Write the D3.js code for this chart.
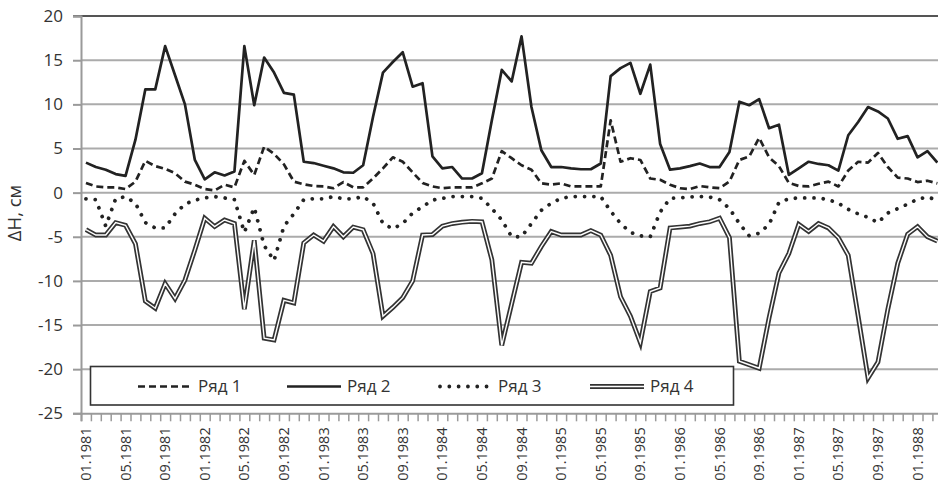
<!DOCTYPE html>
<html><head><meta charset="utf-8">
<script src="https://cdn.jsdelivr.net/npm/d3@7"></script>
<style>
html,body{margin:0;padding:0;background:#fff;}
svg{display:block;}
text{font-family:"Open Sans","DejaVu Sans",sans-serif;fill:#333;}
</style></head>
<body><svg id="chart" width="938" height="490"></svg>
<script>
// ---- data ----
const startYear = 1981;
const categories = d3.range(87).map(i => {
  const m = (i % 12) + 1, yr = startYear + Math.floor(i / 12);
  return (m < 10 ? "0" + m : "" + m) + "." + yr;
});
const tickLabels = ["01.1981","05.1981","09.1981","01.1982","05.1982","09.1982","01.1983","05.1983","09.1983","01.1984","05.1984","09.1984","01.1985","05.1985","09.1985","01.1986","05.1986","09.1986","01.1987","05.1987","09.1987","01.1988"];
const yTicks = [-25,-20,-15,-10,-5,0,5,10,15,20];
const seriesNames = ["Ряд 1","Ряд 2","Ряд 3","Ряд 4"];

const series1 = [1.1,0.7,0.6,0.6,0.4,1.25,3.6,3.0,2.7,2.2,1.25,0.9,0.4,0.25,0.9,0.6,3.6,2.0,5.2,4.4,3.2,1.25,0.95,0.75,0.7,0.5,1.2,0.6,0.6,1.6,2.75,4.0,3.5,2.3,1.1,0.7,0.5,0.6,0.6,0.6,1.05,1.6,4.7,3.9,3.1,2.6,1.05,0.9,1.05,0.7,0.7,0.7,0.7,8.2,3.5,3.9,3.7,1.6,1.45,0.9,0.5,0.4,0.75,0.6,0.5,1.25,3.7,4.1,6.2,4.0,3.0,1.1,0.75,0.7,1.0,1.25,0.7,2.5,3.5,3.4,4.5,2.9,1.7,1.6,1.2,1.35,1.05];
const series2 = [3.4,2.9,2.6,2.1,1.9,6.0,11.7,11.7,16.6,13.3,10.0,3.7,1.5,2.3,1.95,2.4,16.6,9.9,15.3,13.6,11.3,11.1,3.5,3.35,3.05,2.75,2.3,2.25,3.1,8.6,13.6,14.8,15.9,12.0,12.4,4.1,2.75,2.9,1.6,1.6,2.2,8.2,13.9,12.6,17.7,9.7,4.8,2.9,2.9,2.75,2.65,2.65,3.3,13.2,14.1,14.7,11.2,14.5,5.5,2.6,2.75,3.0,3.3,2.9,2.9,4.6,10.3,9.9,10.6,7.3,7.7,2.0,2.75,3.5,3.25,3.1,2.5,6.5,8.0,9.7,9.2,8.4,6.1,6.4,4.0,4.7,3.4];
const series3 = [-0.7,-0.8,-3.8,-0.7,-0.45,-1.2,-3.4,-4.0,-4.0,-2.4,-1.3,-0.85,-0.6,-0.45,-0.6,-0.8,-4.5,-1.7,-6.0,-7.7,-3.8,-2.4,-0.8,-0.7,-0.7,-0.45,-0.7,-0.7,-0.45,-1.2,-3.5,-4.1,-3.5,-2.3,-1.6,-0.85,-0.65,-0.45,-0.45,-0.45,-0.65,-1.8,-3.1,-5.0,-5.0,-3.5,-2.0,-1.2,-0.65,-0.45,-0.45,-0.45,-0.45,-2.1,-3.5,-4.5,-4.9,-5.0,-2.2,-0.65,-0.6,-0.5,-0.45,-0.5,-0.8,-1.8,-3.5,-4.9,-4.6,-3.6,-1.1,-0.7,-0.6,-0.6,-0.6,-0.8,-1.2,-1.9,-2.4,-2.8,-3.4,-2.3,-1.8,-1.3,-0.75,-0.5,-0.85];
const series4 = [-4.2,-4.8,-4.8,-3.4,-3.7,-5.8,-12.3,-13.1,-10.3,-12.0,-9.9,-6.5,-2.9,-3.85,-3.1,-3.5,-13.2,-5.4,-16.5,-16.7,-12.2,-12.5,-5.7,-4.8,-5.5,-3.85,-5.0,-3.9,-4.2,-6.9,-14.0,-13.0,-11.9,-10.0,-4.8,-4.75,-3.8,-3.5,-3.35,-3.25,-3.3,-7.6,-17.3,-12.6,-7.9,-8.0,-6.1,-4.4,-4.8,-4.8,-4.8,-4.3,-4.8,-7.1,-11.8,-14.0,-17.0,-11.2,-10.8,-4.0,-3.9,-3.8,-3.5,-3.3,-2.9,-5.1,-19.1,-19.5,-19.9,-14.2,-9.1,-6.9,-3.6,-4.4,-3.5,-4.0,-5.1,-7.1,-14.0,-21.0,-19.2,-13.2,-8.0,-4.7,-3.85,-5.0,-5.5];

// ---- layout ----
const plotLeft = 81, stepW = 9.9, plotTop = 16.1, plotBottom = 413.3;
const plotRight = plotLeft + categories.length * stepW;
const svg = d3.select("#chart");
svg.append("rect").attr("width",938).attr("height",490).attr("fill","#fff");

const x = d3.scaleBand().domain(categories).range([plotLeft, plotRight]).padding(0);
const xc = c => x(c) + x.bandwidth() / 2;
const xb = d3.scaleLinear().domain([0, categories.length]).range([plotLeft, plotRight]);
const y = d3.scaleLinear().domain([-25, 20]).range([plotBottom, plotTop]);

// gridlines
svg.append("g").selectAll("line").data(yTicks.filter(v => v > -25 && v < 20)).join("line")
  .attr("x1", plotLeft).attr("x2", 938).attr("y1", d => y(d)).attr("y2", d => y(d))
  .attr("stroke", "#ababab").attr("stroke-width", 2);
// top border
svg.append("line").attr("x1", plotLeft - 8).attr("x2", 938).attr("y1", y(20)).attr("y2", y(20))
  .attr("stroke", "#555").attr("stroke-width", 2);

// y axis
const ya = svg.append("g").attr("transform", `translate(${plotLeft},0)`)
  .call(d3.axisLeft(y).tickValues(yTicks).tickSize(8).tickPadding(10).tickFormat(d => String(d)));
ya.select(".domain").attr("stroke", "#9a9a9a").attr("stroke-width", 2);
ya.selectAll(".tick line").attr("stroke", "#9a9a9a").attr("stroke-width", 2);
ya.selectAll(".tick text").attr("font-size", 17).attr("fill", "#333")
  .attr("font-family", '"Open Sans", sans-serif');

// x axis ticks (category boundaries)
const xa = svg.append("g").attr("transform", `translate(0,${plotBottom})`)
  .call(d3.axisBottom(xb).tickValues(d3.range(0, categories.length + 1)).tickSize(8).tickFormat(""));
xa.select(".domain").attr("stroke", "#9a9a9a").attr("stroke-width", 2);
xa.selectAll(".tick line").attr("stroke", "#9a9a9a").attr("stroke-width", 1.5);
// x labels
const xl = svg.append("g").attr("transform", `translate(0,${plotBottom})`)
  .call(d3.axisBottom(x).tickValues(tickLabels).tickSize(0).tickPadding(0));
xl.select(".domain").remove();
xl.selectAll(".tick text")
  .attr("font-size", 14.5).attr("fill", "#333").attr("font-family", '"Open Sans", sans-serif')
  .attr("text-anchor", "end").attr("transform", "rotate(-90)")
  .attr("x", -14).attr("y", 0).attr("dy", "0.35em");

// y title
svg.append("text").attr("transform", "translate(15,213) rotate(-90)")
  .attr("text-anchor", "middle").attr("dy", "0.35em").attr("font-size", 18.5)
  .text("ΔH, см");

// lines
svg.append("clipPath").attr("id", "clip").append("rect")
  .attr("x", plotLeft).attr("y", 0).attr("width", 938 - plotLeft).attr("height", 490);
const g = svg.append("g").attr("clip-path", "url(#clip)");
const line = d3.line().x((d, i) => xc(categories[i])).y(d => y(d));

const styles = [
  {data: series1, stroke: "#222", width: 2.7, dash: "7,4", cap: "butt"},
  {data: series2, stroke: "#222", width: 2.7, dash: null, cap: "butt"},
  {data: series3, stroke: "#222", width: 3.8, dash: "0.01,9.3", cap: "round"},
];
// Ряд 4 double line
g.append("path").datum(series4).attr("d", line).attr("fill", "none")
  .attr("stroke", "#333").attr("stroke-width", 4.8).attr("stroke-linejoin", "miter");
g.append("path").datum(series4).attr("d", line).attr("fill", "none")
  .attr("stroke", "#fff").attr("stroke-width", 1.4).attr("stroke-linejoin", "miter");
styles.forEach(s => {
  g.append("path").datum(s.data).attr("d", line).attr("fill", "none")
    .attr("stroke", s.stroke).attr("stroke-width", s.width)
    .attr("stroke-dasharray", s.dash).attr("stroke-linecap", s.cap)
    .attr("stroke-linejoin", "round");
});

// legend
const lg = svg.append("g");
lg.append("rect").attr("x", 90.5).attr("y", 366.5).attr("width", 643).attr("height", 38.5)
  .attr("fill", "#fff").attr("stroke", "#333").attr("stroke-width", 1.6);
const legX = [138, 287, 438, 590];
const legY = 386.5;
seriesNames.forEach((name, k) => {
  const x0 = legX[k], x1 = x0 + 54;
  if (k === 3) {
    lg.append("line").attr("x1", x0).attr("x2", x1).attr("y1", legY).attr("y2", legY)
      .attr("stroke", "#333").attr("stroke-width", 4.8);
    lg.append("line").attr("x1", x0).attr("x2", x1).attr("y1", legY).attr("y2", legY)
      .attr("stroke", "#fff").attr("stroke-width", 1.4);
  } else {
    const s = styles[k];
    lg.append("line").attr("x1", x0 + (k === 2 ? 2 : 0)).attr("x2", x1).attr("y1", legY).attr("y2", legY)
      .attr("stroke", s.stroke).attr("stroke-width", s.width)
      .attr("stroke-dasharray", s.dash).attr("stroke-linecap", s.cap);
  }
  lg.append("text").attr("x", x1 + 6).attr("y", legY).attr("dy", "0.35em")
    .attr("font-size", 17).text(name);
});
</script></body></html>
